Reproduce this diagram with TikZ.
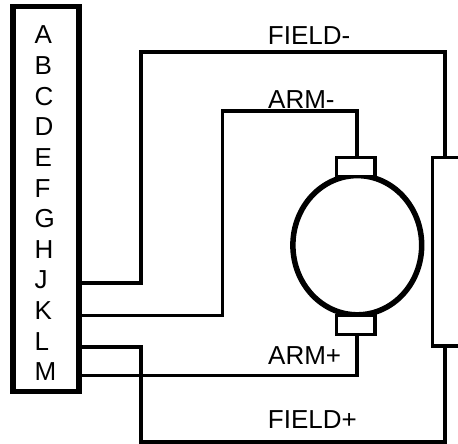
\documentclass[tikz,border=0pt]{standalone}
\usepackage{fontspec}
\usetikzlibrary{shapes.geometric}
\setmainfont{Liberation Sans}
\begin{document}
\begin{tikzpicture}[x=1pt,y=-1pt,
  lab/.style={inner sep=0pt,anchor=base west,font=\fontsize{26}{26}\selectfont,text=black},
  wire/.style={draw=black,line width=4pt,line join=miter},
  thinwire/.style={draw=black,line width=3.5pt,line join=miter},
  heavy/.style={draw=black,line width=5.5pt},
  brush/.style={draw=black,line width=3.3pt,fill=white,inner sep=0pt,outer sep=0pt,minimum width=38.3pt},
]
\useasboundingbox (0,0) rectangle (458,444);
\fill[white] (0,0) rectangle (458,444);
% terminal strip
\node[heavy,inner sep=0pt,minimum width=66.2pt,minimum height=385pt] (strip) at (46.1,199.2) {};
\foreach \t/\b in {A/44,B/74.6,C/105.2,D/135.8,E/166.5,F/197.1,G/227.7,H/258.3,J/288.9,K/319.5,L/350.1,M/380}
  \node[lab] (t\t) at (34.5,\b) {\t};
% motor
\node[draw=black,line width=5.5pt,ellipse,inner sep=0pt,minimum width=128.8pt,minimum height=139.2pt] (motor) at (357.3,245.2) {};
\node[brush,minimum height=18.6pt] (btop) at (355.8,166.9) {};
\node[brush,minimum height=19.2pt] (bbot) at (355.8,325.1) {};
% field winding (runs off the right edge)
\coordinate (fa) at (458,157.6);
\coordinate (fb) at (432.6,157.6);
\coordinate (fc) at (432.6,346);
\coordinate (fd) at (458,346);
\draw[line width=3.3pt] (fa) -- (fb) -- (fc) -- (fd);
% wire routing points
\coordinate (J) at (81,283.3);
\coordinate (K) at (81,315.3);
\coordinate (L) at (81,346.7);
\coordinate (M) at (81,375.3);
\coordinate (ft) at (445,157);
\coordinate (fm) at (445,346);
\coordinate (at) at (356.9,157);
\coordinate (ab) at (356.9,335);
\draw[wire] (J) -- (140.7,283.3) -- (140.7,52) -- (445,52) -- (ft);
\draw[thinwire] (K) -- (222.3,315.3) -- (222.3,111) -- (356.9,111) -- (at);
\draw[wire] (L) -- (140.7,346.7) -- (140.7,442) -- (445,442) -- (fm);
\draw[thinwire] (M) -- (356.9,375.3) -- (ab);
% labels
\node[lab] (fieldm) at (267.7,45) {FIELD-};
\node[lab] (armm) at (268,109) {ARM-};
\node[lab] (armp) at (268,364.7) {ARM+};
\node[lab] (fieldp) at (267.7,428) {FIELD+};
\end{tikzpicture}
\end{document}
